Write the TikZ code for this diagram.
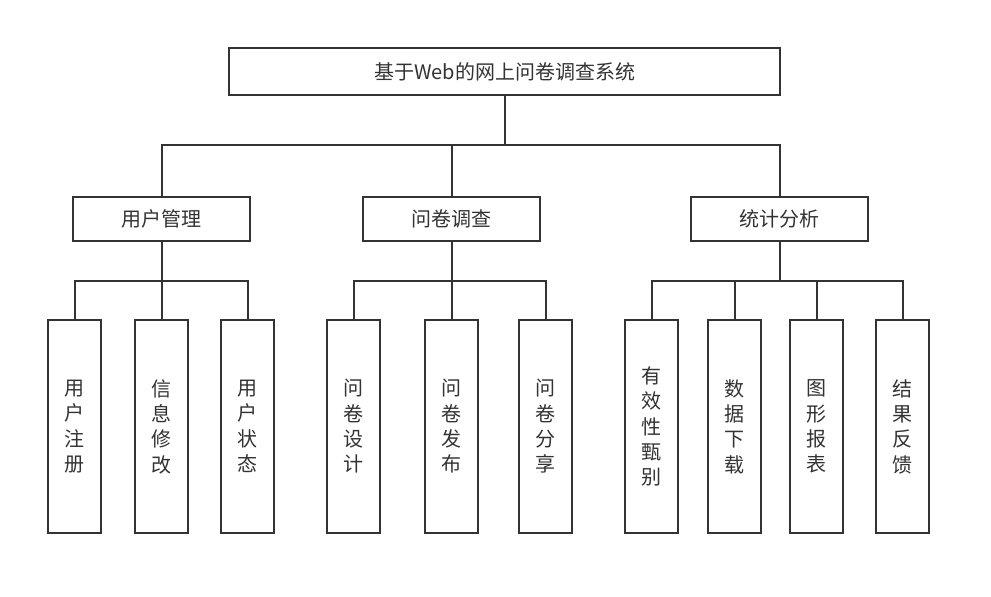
\documentclass[tikz,border=0pt]{standalone}
\usepackage{fontspec}
\setmainfont{Noto Sans CJK SC}
\usepackage{tikz}
\definecolor{linegray}{HTML}{333333}

\begin{document}
\begin{tikzpicture}[x=0.75pt,y=-0.75pt,font=\fontsize{15}{19}\selectfont,text=linegray,
  box/.style={draw=linegray,line width=1.4pt,fill=white,inner sep=0pt,align=center},
  link/.style={draw=linegray,line width=1.5pt}]
\useasboundingbox (0,0) rectangle (991,596);
\node[box,minimum width=413pt,minimum height=35pt] (root) at (504.5,71.5) {基于Web的网上问卷调查系统};
% second level
\foreach \x/\n/\t in {161.5/um/用户管理,451.5/qs/问卷调查,779.5/sa/统计分析}{
  \node[box,minimum width=133pt,minimum height=33pt] (\n) at (\x,219) {\t};
  \draw[link] (root.south) -- (root.south |- 0,145) -| (\n.north);
}
% leaves
\foreach \x/\n/\t/\p in {74.5/u1/{用\\户\\注\\册}/um,161.5/u2/{信\\息\\修\\改}/um,247.5/u3/{用\\户\\状\\态}/um,
  353.5/q1/{问\\卷\\设\\计}/qs,451.5/q2/{问\\卷\\发\\布}/qs,545.5/q3/{问\\卷\\分\\享}/qs,
  651.5/s1/{有\\效\\性\\甄\\别}/sa,734.5/s2/{数\\据\\下\\载}/sa,816.5/s3/{图\\形\\报\\表}/sa,902.5/s4/{结\\果\\反\\馈}/sa}{
  \node[box,minimum width=40pt,minimum height=160pt] (\n) at (\x,426.5) {\t};
  \draw[link] (\p.south) -- (\p.south |- 0,281) -| (\n.north);
}
\end{tikzpicture}
\end{document}
